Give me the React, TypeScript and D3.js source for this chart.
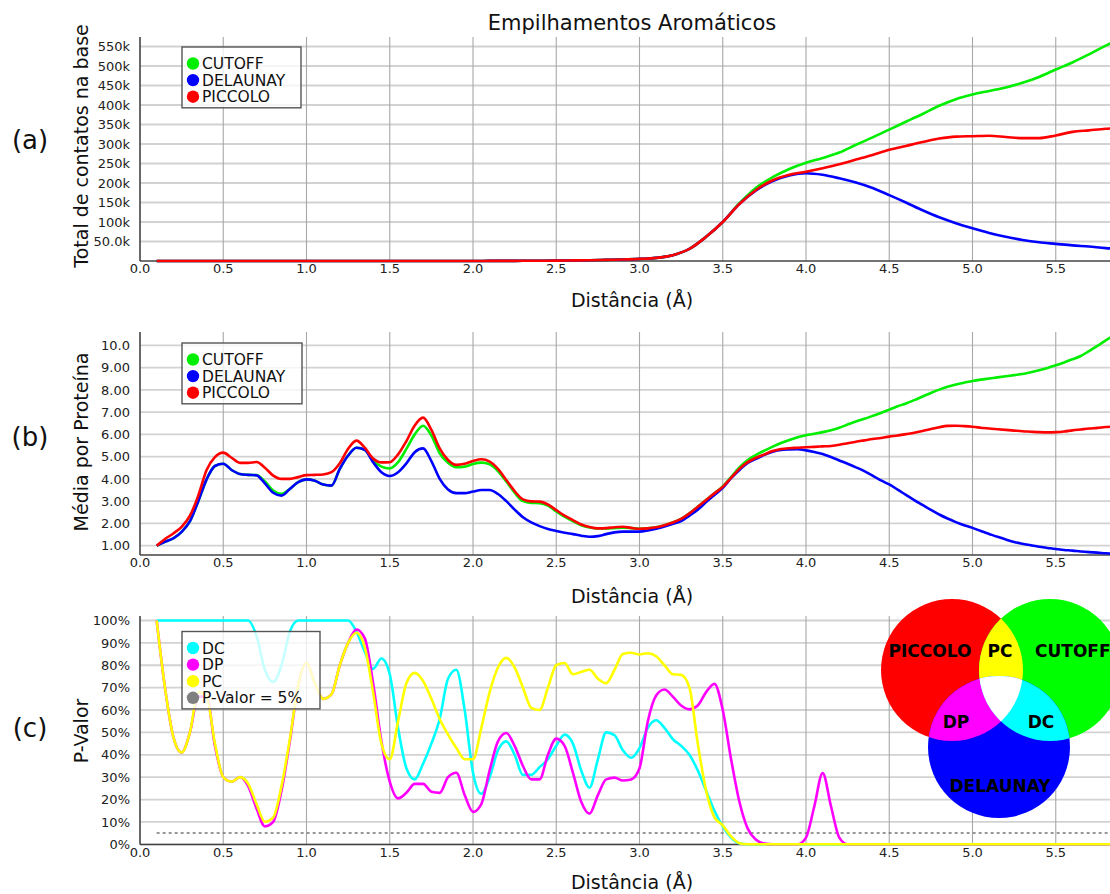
import React from "react";
import * as d3 from "d3";

// ---------- DATA ----------
// x grids (distance, Å)
const distCoarse: number[] = d3.range(1, 60).map((i) => i / 10); // 0.1 .. 5.9
const distFine: number[] = d3.range(2, 119).map((i) => i / 20); // 0.1 .. 5.9 step 0.05

const xTicks = [0, 0.5, 1, 1.5, 2, 2.5, 3, 3.5, 4, 4.5, 5, 5.5];
const xTickLabels = ["0.0", "0.5", "1.0", "1.5", "2.0", "2.5", "3.0", "3.5", "4.0", "4.5", "5.0", "5.5"];

// (a) total contacts (thousands)
const totalCutoff = [
  0, 0, 0, 0, 0, 0, 0, 0, 0, 0, 0, 0, 0, 0, 0, 0, 0, 0, 0, 0,
  0.2, 0.3, 0.5, 0.7, 1.0, 1.5, 2.0, 3.0, 4.0, 5.5,
  8, 15, 31, 62, 100, 148, 188, 215, 236, 252,
  264, 278, 298, 317, 337, 357, 377, 398, 415, 427,
  436, 445, 457, 472, 491, 509, 530, 552, 575,
];
const totalDelaunay = [
  0, 0, 0, 0, 0, 0, 0, 0, 0, 0, 0, 0, 0, 0, 0, 0, 0, 0, 0, 0,
  0.2, 0.3, 0.5, 0.7, 1.0, 1.5, 2.0, 3.0, 4.0, 5.5,
  8, 15, 31, 62, 100, 146, 181, 205, 219, 225,
  221, 212, 201, 187, 169, 150, 130, 112, 97, 84,
  72, 62, 54, 48, 44, 40, 37, 33, 31,
];
const totalPiccolo = [
  0, 0, 0, 0, 0, 0, 0, 0, 0, 0, 0, 0, 0, 0, 0, 0, 0, 0, 0, 0,
  0.2, 0.3, 0.5, 0.7, 1.0, 1.5, 2.0, 3.0, 4.0, 5.5,
  8, 15, 31, 62, 100, 146, 182, 207, 221, 229,
  238, 248, 260, 272, 285, 295, 305, 314, 319, 320,
  321, 318, 315, 315, 322, 331, 335, 339, 342,
];
const totalTicks = [50, 100, 150, 200, 250, 300, 350, 400, 450, 500, 550];
const totalTickLabels = ["50.0k", "100k", "150k", "200k", "250k", "300k", "350k", "400k", "450k", "500k", "550k"];

// (b) mean per protein
const meanCutoff = [
  1.00, 1.18, 1.33, 1.62, 2.10, 3.00, 3.98, 4.58, 4.68, 4.40,
  4.22, 4.18, 4.17, 3.88, 3.48, 3.33, 3.55, 3.85, 3.98, 3.92,
  3.75, 3.70, 4.45, 5.05, 5.40, 5.30, 4.82, 4.55, 4.47, 4.75,
  5.35, 6.00, 6.39, 5.95, 5.15, 4.72, 4.52, 4.55, 4.67, 4.73,
  4.66, 4.35, 3.88, 3.38, 3.00, 2.92, 2.91, 2.80, 2.54, 2.30,
  2.10, 1.92, 1.82, 1.77, 1.77, 1.79, 1.81, 1.79, 1.76, 1.78,
  1.83, 1.92, 2.04, 2.20, 2.45, 2.75, 3.05, 3.35, 3.66, 4.08,
  4.52, 4.85, 5.08, 5.27, 5.45, 5.61, 5.75, 5.87, 5.96, 6.03,
  6.10, 6.19, 6.30, 6.44, 6.58, 6.70, 6.83, 6.96, 7.11, 7.26,
  7.39, 7.54, 7.70, 7.86, 8.01, 8.14, 8.24, 8.32, 8.40, 8.46,
  8.51, 8.56, 8.61, 8.66, 8.71, 8.79, 8.88, 8.98, 9.10, 9.23,
  9.37, 9.52, 9.74, 9.97, 10.22, 10.45, 10.68,
];
const meanDelaunay = [
  1.00, 1.18, 1.33, 1.62, 2.10, 3.00, 3.98, 4.58, 4.68, 4.40,
  4.22, 4.18, 4.16, 3.80, 3.38, 3.25, 3.55, 3.85, 3.98, 3.92,
  3.75, 3.70, 4.45, 5.05, 5.40, 5.30, 4.75, 4.30, 4.13, 4.30,
  4.70, 5.20, 5.37, 4.80, 4.00, 3.52, 3.36, 3.36, 3.43, 3.50,
  3.50, 3.32, 3.00, 2.62, 2.28, 2.05, 1.88, 1.75, 1.66, 1.58,
  1.52, 1.45, 1.40, 1.43, 1.52, 1.60, 1.63, 1.63, 1.63, 1.68,
  1.76, 1.86, 1.98, 2.10, 2.35, 2.62, 2.96, 3.28, 3.60, 4.03,
  4.40, 4.72, 4.90, 5.08, 5.22, 5.30, 5.32, 5.33, 5.28, 5.21,
  5.12, 4.98, 4.83, 4.68, 4.52, 4.35, 4.15, 3.93, 3.75, 3.52,
  3.28, 3.05, 2.83, 2.61, 2.40, 2.22, 2.06, 1.92, 1.80, 1.66,
  1.53, 1.40, 1.28, 1.17, 1.09, 1.02, 0.95, 0.90, 0.85, 0.81,
  0.78, 0.74, 0.71, 0.69, 0.66, 0.64, 0.62,
];
const meanPiccolo = [
  1.00, 1.30, 1.55, 1.85, 2.35, 3.25, 4.40, 4.98, 5.18, 4.95,
  4.72, 4.72, 4.76, 4.50, 4.15, 4.00, 4.00, 4.08, 4.17, 4.18,
  4.20, 4.30, 4.70, 5.35, 5.72, 5.40, 4.92, 4.74, 4.75, 5.10,
  5.70, 6.40, 6.75, 6.20, 5.37, 4.85, 4.63, 4.68, 4.80, 4.88,
  4.78, 4.45, 3.95, 3.45, 3.08, 2.99, 2.98, 2.85, 2.60, 2.35,
  2.15, 1.95, 1.84, 1.78, 1.79, 1.83, 1.85, 1.80, 1.76, 1.78,
  1.83, 1.92, 2.04, 2.20, 2.45, 2.75, 3.05, 3.35, 3.64, 4.05,
  4.45, 4.75, 4.95, 5.10, 5.25, 5.34, 5.38, 5.40, 5.42, 5.44,
  5.46, 5.48, 5.53, 5.60, 5.67, 5.73, 5.79, 5.84, 5.90, 5.95,
  6.01, 6.07, 6.15, 6.24, 6.32, 6.38, 6.39, 6.37, 6.34, 6.30,
  6.26, 6.23, 6.20, 6.17, 6.14, 6.12, 6.10, 6.09, 6.10, 6.13,
  6.18, 6.22, 6.26, 6.29, 6.33, 6.35, 6.37,
];
const meanTicks = [1, 2, 3, 4, 5, 6, 7, 8, 9, 10];
const meanTickLabels = ["1.00", "2.00", "3.00", "4.00", "5.00", "6.00", "7.00", "8.00", "9.00", "10.0"];

// (c) p-values (fraction)
const pDC = [
  1, 1, 1, 1, 1, 1, 1, 1, 1, 1, 1, 1,
  0.93, 0.78, 0.725, 0.80, 0.95, 1, 1, 1, 1, 1, 1, 1,
  0.95, 0.86, 0.784, 0.83, 0.76, 0.52, 0.34, 0.29, 0.36, 0.45,
  0.56, 0.74, 0.78, 0.60, 0.32, 0.226, 0.30, 0.42, 0.46, 0.40,
  0.31, 0.31, 0.345, 0.38, 0.44, 0.49, 0.45, 0.33, 0.253, 0.38,
  0.50, 0.487, 0.42, 0.387, 0.43, 0.52, 0.554, 0.52, 0.47, 0.44,
  0.40, 0.33, 0.24, 0.15, 0.08, 0.03, 0.005,
  0, 0, 0, 0, 0, 0, 0, 0, 0, 0, 0, 0, 0, 0, 0, 0, 0, 0, 0, 0, 0, 0, 0,
  0, 0, 0, 0, 0, 0, 0, 0, 0, 0, 0, 0, 0, 0, 0, 0, 0, 0, 0, 0, 0, 0, 0,
];
const pDP = [
  1.00, 0.70, 0.48, 0.41, 0.50, 0.66, 0.66, 0.44, 0.30, 0.28,
  0.30, 0.26, 0.16, 0.08, 0.10, 0.24, 0.46, 0.71, 0.81, 0.72,
  0.65, 0.67, 0.80, 0.90, 0.96, 0.92, 0.72, 0.46, 0.28, 0.205,
  0.23, 0.27, 0.27, 0.235, 0.23, 0.30, 0.32, 0.22, 0.145, 0.18,
  0.33, 0.46, 0.497, 0.44, 0.35, 0.29, 0.29, 0.40, 0.472, 0.44,
  0.32, 0.19, 0.137, 0.22, 0.29, 0.298, 0.285, 0.29, 0.34, 0.55,
  0.665, 0.692, 0.66, 0.62, 0.603, 0.62, 0.68, 0.717, 0.60, 0.38,
  0.19, 0.07, 0.02, 0.003, 0, 0, 0, 0, 0.03, 0.17,
  0.318, 0.17, 0.03, 0,
  0, 0, 0, 0, 0, 0, 0, 0, 0, 0, 0, 0, 0, 0, 0, 0, 0,
  0, 0, 0, 0, 0, 0, 0, 0, 0, 0, 0, 0, 0, 0, 0, 0,
];
const pPC = [
  1.00, 0.70, 0.48, 0.41, 0.50, 0.68, 0.66, 0.45, 0.30, 0.28,
  0.30, 0.27, 0.18, 0.10, 0.12, 0.26, 0.47, 0.71, 0.81, 0.72,
  0.65, 0.67, 0.80, 0.90, 0.945, 0.88, 0.68, 0.45, 0.38, 0.55,
  0.72, 0.766, 0.73, 0.65, 0.56, 0.49, 0.43, 0.38, 0.38, 0.52,
  0.68, 0.79, 0.833, 0.79, 0.70, 0.61, 0.60, 0.70, 0.80, 0.81,
  0.76, 0.77, 0.78, 0.74, 0.72, 0.78, 0.85, 0.856, 0.848, 0.854,
  0.84, 0.80, 0.76, 0.757, 0.70, 0.45, 0.24, 0.12, 0.085, 0.035,
  0.005,
  0, 0, 0, 0, 0, 0, 0, 0, 0, 0, 0, 0, 0, 0, 0, 0, 0, 0, 0, 0, 0, 0, 0,
  0, 0, 0, 0, 0, 0, 0, 0, 0, 0, 0, 0, 0, 0, 0, 0, 0, 0, 0, 0, 0, 0, 0,
];
const pThreshold = 0.05;
const pTicks = [0, 0.1, 0.2, 0.3, 0.4, 0.5, 0.6, 0.7, 0.8, 0.9, 1.0];
const pTickLabels = ["0%", "10%", "20%", "30%", "40%", "50%", "60%", "70%", "80%", "90%", "100%"];

// ---------- STYLE ----------
const FONT = "DejaVu Sans, Verdana, sans-serif";
const C_GREEN = "#00ee00";
const C_BLUE = "#0000ff";
const C_RED = "#ff0000";
const C_CYAN = "#00ffff";
const C_MAGENTA = "#ff00ff";
const C_YELLOW = "#ffff00";
const C_GRAY = "#808080";

const x = d3.scaleLinear().domain([0, 6]).range([140, 1139]);
const X_LEFT = 140;
const X_RIGHT = 1139;

type Series = { name: string; color: string; xs: number[]; ys: number[] };

function Panel(props: {
  top: number;
  axisY: number;
  y: d3.ScaleLinear<number, number>;
  yTicks: number[];
  yTickLabels: string[];
  series: Series[];
  legend: { name: string; color: string }[];
  legendTop: number;
  legendWidth: number;
  ylabel: string;
  ylabelY: number;
  tag: string;
  tagY: number;
  xlabelY: number;
  extra?: React.ReactNode;
  thresholdLine?: number;
}) {
  const { top, axisY, y } = props;
  const line = (s: Series) =>
    d3
      .line<number>()
      .x((_, i) => x(s.xs[i]))
      .y((d) => y(d))
      .curve(d3.curveMonotoneX)(s.ys) || "";
  const rowH = 16.6;
  const legendH = props.legend.length * rowH + 11;
  return (
    <g>
      {props.yTicks.map((t) => (
        <line key={"h" + t} x1={X_LEFT} x2={X_RIGHT} y1={y(t)} y2={y(t)} stroke="#d2d2d2" strokeWidth={1.8} />
      ))}
      {xTicks.filter((t) => t > 0).map((t) => (
        <line key={"v" + t} x1={x(t)} x2={x(t)} y1={top} y2={axisY} stroke="#a8a8a8" strokeWidth={1.1} />
      ))}
      <line x1={X_LEFT} x2={X_RIGHT} y1={axisY} y2={axisY} stroke="#444" strokeWidth={1.6} />
      <line x1={X_LEFT} x2={X_LEFT} y1={top} y2={axisY} stroke="#444" strokeWidth={1.6} />
      {props.yTicks.map((t, i) => (
        <text key={"yl" + t} x={130} y={y(t)} dy="0.36em" textAnchor="end" fontFamily={FONT} fontSize={13} fill="#222">
          {props.yTickLabels[i]}
        </text>
      ))}
      {xTicks.map((t, i) => (
        <text key={"xl" + t} x={x(t)} y={axisY + 12} textAnchor="middle" fontFamily={FONT} fontSize={13} fill="#222">
          {xTickLabels[i]}
        </text>
      ))}
      {props.thresholdLine !== undefined && (
        <line
          x1={x(distCoarse[0])}
          x2={x(distCoarse[distCoarse.length - 1])}
          y1={y(props.thresholdLine)}
          y2={y(props.thresholdLine)}
          stroke="#777"
          strokeWidth={1.5}
          strokeDasharray="3,3"
        />
      )}
      {props.series.map((s) => (
        <path key={s.name} d={line(s)} fill="none" stroke={s.color} strokeWidth={2.6} strokeLinejoin="round" />
      ))}
      {props.extra}
      <rect
        x={182}
        y={props.legendTop}
        width={props.legendWidth}
        height={legendH}
        fill="#ffffff"
        fillOpacity={0.78}
        stroke="#555"
        strokeWidth={1.4}
      />
      {props.legend.map((l, i) => {
        const cy = props.legendTop + 16.5 + i * rowH;
        return (
          <g key={l.name}>
            <circle cx={193} cy={cy} r={6.2} fill={l.color} />
            <text x={202} y={cy + 5.5} fontFamily={FONT} fontSize={15.5} fill="#111">
              {l.name}
            </text>
          </g>
        );
      })}
      <text
        transform={`translate(88,${props.ylabelY}) rotate(-90)`}
        textAnchor="middle"
        fontFamily={FONT}
        fontSize={19}
        fill="#111"
      >
        {props.ylabel}
      </text>
      <text x={632} y={props.xlabelY} textAnchor="middle" fontFamily={FONT} fontSize={19} fill="#111">
        Distância (Å)
      </text>
      <text x={30} y={props.tagY} textAnchor="middle" fontFamily={FONT} fontSize={26} fill="#111">
        {props.tag}
      </text>
    </g>
  );
}

function Venn() {
  const r = 71;
  const red = { cx: 952, cy: 670 };
  const green = { cx: 1050, cy: 670 };
  const blue = { cx: 999, cy: 747 };
  const lab = { fontFamily: FONT, fontSize: 17, fontWeight: 700, fill: "#000" } as const;
  return (
    <g>
      <defs>
        <clipPath id="clipRed">
          <circle cx={red.cx} cy={red.cy} r={r} />
        </clipPath>
        <clipPath id="clipGreen">
          <circle cx={green.cx} cy={green.cy} r={r} />
        </clipPath>
      </defs>
      <circle cx={red.cx} cy={red.cy} r={r} fill={C_RED} />
      <circle cx={green.cx} cy={green.cy} r={r} fill="#00ff00" />
      <circle cx={blue.cx} cy={blue.cy} r={r} fill={C_BLUE} />
      <g clipPath="url(#clipRed)">
        <circle cx={green.cx} cy={green.cy} r={r} fill={C_YELLOW} />
        <circle cx={blue.cx} cy={blue.cy} r={r} fill={C_MAGENTA} />
      </g>
      <g clipPath="url(#clipGreen)">
        <circle cx={blue.cx} cy={blue.cy} r={r} fill={C_CYAN} />
      </g>
      <g clipPath="url(#clipRed)">
        <g clipPath="url(#clipGreen)">
          <circle cx={blue.cx} cy={blue.cy} r={r} fill="#ffffff" />
        </g>
      </g>
      <text x={930} y={657} textAnchor="middle" {...lab}>PICCOLO</text>
      <text x={1000} y={657} textAnchor="middle" {...lab}>PC</text>
      <text x={1035} y={657} textAnchor="start" {...lab}>CUTOFF</text>
      <text x={956} y={728} textAnchor="middle" {...lab}>DP</text>
      <text x={1041} y={728} textAnchor="middle" {...lab}>DC</text>
      <text x={1000} y={792} textAnchor="middle" {...lab}>DELAUNAY</text>
    </g>
  );
}

export default function App() {
  const yA = d3.scaleLinear().domain([0, 550]).range([261, 46.5]);
  const yB = d3.scaleLinear().domain([1, 10]).range([545.7, 345.3]);
  const yC = d3.scaleLinear().domain([0, 1]).range([844.3, 620.5]);

  const legendABC = [
    { name: "CUTOFF", color: C_GREEN },
    { name: "DELAUNAY", color: C_BLUE },
    { name: "PICCOLO", color: C_RED },
  ];

  return (
    <svg
      width={1110}
      height={894}
      viewBox="0 0 1110 894"
      style={{ position: "absolute", left: 0, top: 0, background: "#fff" }}
    >
      <rect x={0} y={0} width={1110} height={894} fill="#fff" />
      <text x={632} y={30} textAnchor="middle" fontFamily={FONT} fontSize={21} fill="#111">
        Empilhamentos Aromáticos
      </text>
      <Panel
        top={37}
        axisY={261}
        y={yA}
        yTicks={totalTicks}
        yTickLabels={totalTickLabels}
        series={[
          { name: "CUTOFF", color: C_GREEN, xs: distCoarse, ys: totalCutoff },
          { name: "DELAUNAY", color: C_BLUE, xs: distCoarse, ys: totalDelaunay },
          { name: "PICCOLO", color: C_RED, xs: distCoarse, ys: totalPiccolo },
        ]}
        legend={legendABC}
        legendTop={47}
        legendWidth={119}
        ylabel="Total de contatos na base"
        ylabelY={146}
        tag="(a)"
        tagY={149}
        xlabelY={307}
      />
      <Panel
        top={332}
        axisY={555}
        y={yB}
        yTicks={meanTicks}
        yTickLabels={meanTickLabels}
        series={[
          { name: "CUTOFF", color: C_GREEN, xs: distFine, ys: meanCutoff },
          { name: "DELAUNAY", color: C_BLUE, xs: distFine, ys: meanDelaunay },
          { name: "PICCOLO", color: C_RED, xs: distFine, ys: meanPiccolo },
        ]}
        legend={legendABC}
        legendTop={343}
        legendWidth={120}
        ylabel="Média por Proteína"
        ylabelY={442}
        tag="(b)"
        tagY={446}
        xlabelY={603}
      />
      <Panel
        top={616}
        axisY={844.5}
        y={yC}
        yTicks={pTicks}
        yTickLabels={pTickLabels}
        series={[
          { name: "DC", color: C_CYAN, xs: distFine, ys: pDC },
          { name: "DP", color: C_MAGENTA, xs: distFine, ys: pDP },
          { name: "PC", color: C_YELLOW, xs: distFine, ys: pPC },
        ]}
        thresholdLine={pThreshold}
        legend={[
          { name: "DC", color: C_CYAN },
          { name: "DP", color: C_MAGENTA },
          { name: "PC", color: C_YELLOW },
          { name: "P-Valor = 5%", color: C_GRAY },
        ]}
        legendTop={631.5}
        legendWidth={138}
        ylabel="P-Valor"
        ylabelY={731}
        tag="(c)"
        tagY={737}
        xlabelY={889}
        extra={<Venn />}
      />
    </svg>
  );
}
